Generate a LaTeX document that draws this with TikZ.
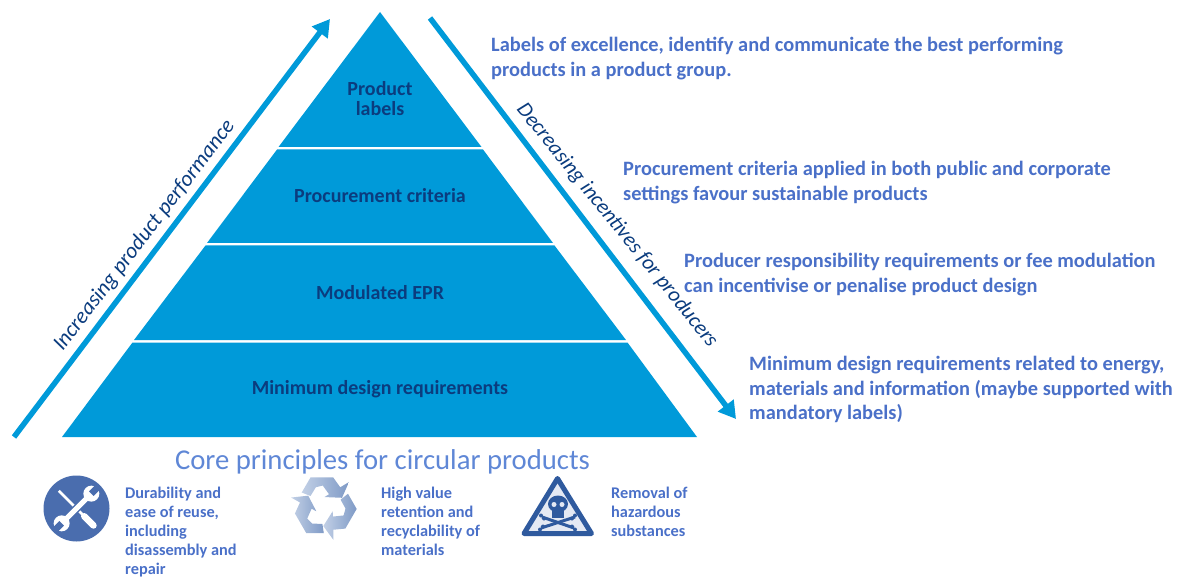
\documentclass[tikz,border=0pt]{standalone}
\usepackage{fontspec}
\setmainfont{Carlito}
\usetikzlibrary{arrows.meta,shapes.geometric}
\definecolor{pyr}{HTML}{009AD9}
\definecolor{darklab}{HTML}{0B3C7E}
\definecolor{bluetxt}{HTML}{4A70C8}
\definecolor{coretxt}{HTML}{5F87D6}
\definecolor{iconblue}{HTML}{4A6DAE}
\definecolor{hazblue}{HTML}{2F5A9E}
\definecolor{hazfill}{HTML}{E4E9F3}
\definecolor{recA}{HTML}{C2D0E6}
\definecolor{recB}{HTML}{7F9AC6}
\tikzset{
 tier/.style={fill=pyr,draw=none},
 tierlab/.style={font=\fontsize{20}{20}\selectfont\bfseries,text=darklab,align=center,inner sep=0},
 note/.style={font=\fontsize{20.4}{24.5}\selectfont\bfseries,text=bluetxt,align=left,anchor=north west,inner sep=0},
 small/.style={font=\fontsize{16.3}{19}\selectfont\bfseries,text=bluetxt,align=left,anchor=north west,inner sep=0},
 rotlab/.style={font=\fontsize{21.9}{24}\selectfont\itshape,text=darklab,inner sep=0},
 bigarrow/.style={draw=pyr,line width=5.5pt,-{Triangle[length=17pt,width=19pt]}},
 recarrow/.style={left color=recA,right color=recB,draw=none}
}
\begin{document}
\begin{tikzpicture}[x=1pt,y=-1pt]
\useasboundingbox (0,0) rectangle (1177,577);
% pyramid
\path[tier] (380,12) -- (481.5,147) -- (278.5,147) -- cycle;
\path[tier] (277,149.5) -- (483,149.5) -- (553,243) -- (207,243) -- cycle;
\path[tier] (205.5,245.5) -- (554.5,245.5) -- (626,340) -- (134,340) -- cycle;
\path[tier] (132.5,342.5) -- (627.5,342.5) -- (697,437) -- (62,437) -- cycle;
\node[tierlab] (t1) at (380,98.5) {Product\\labels};
\node[tierlab] (t2) at (380,195.5) {Procurement criteria};
\node[tierlab] (t3) at (380,292.5) {Modulated EPR};
\node[tierlab] (t4) at (380,389.5) {Minimum design requirements};
% arrows
\coordinate (ua) at (14,437);
\coordinate (ub) at (330,19);
\coordinate (da) at (430,18);
\coordinate (db) at (736,419);
\draw[bigarrow] (ua) -- (ub);
\draw[bigarrow] (da) -- (db);
\node[rotlab,rotate=52.6] (inc) at (144.5,235.5) {Increasing product performance};
\node[rotlab,font=\fontsize{21.4}{24}\selectfont\itshape,rotate=-51] (dec) at (617,225.5) {Decreasing incentives for producers};
% notes
\node[note] (n1) at (491,37) {Labels of excellence, identify and communicate the best performing\\products in a product group.};
\node[note] (n2) at (623,161) {Procurement criteria applied in both public and corporate\\settings favour sustainable products};
\node[note] (n3) at (684,253) {Producer responsibility requirements or fee modulation\\can incentivise or penalise product design};
\node[note] (n4) at (749,356) {Minimum design requirements related to energy,\\materials and information (maybe supported with\\mandatory labels)};
% core
\node[font=\fontsize{28.7}{32}\selectfont,text=coretxt,inner sep=0] (core) at (382.5,462) {Core principles for circular products};
\node[small] (s1) at (125,486.5) {Durability and\\ease of reuse,\\including\\disassembly and\\repair};
\node[small] (s2) at (381,486.5) {High value\\retention and\\recyclability of\\materials};
\node[small] (s3) at (611,486.5) {Removal of\\hazardous\\substances};
% tools icon
\fill[iconblue] (76.5,508.5) circle (33);
\begin{scope}[shift={(76.5,508.5)},rotate=45]
 \draw[white,line width=2.6pt] (0,-25) -- (0,10);
 \draw[white,line width=6.5pt,line cap=round] (0,11) -- (0,24);
 \draw[iconblue,line width=8pt] (-14,0) -- (14,0);
 \draw[white,line width=5pt] (-21,0) -- (21,0);
 \fill[white] (21,0) circle (8);
 \fill[white] (-21,0) circle (8);
 \fill[iconblue] (21,-3.2) rectangle (31,3.2);
 \fill[iconblue] (-21,-3.2) rectangle (-31,3.2);
\end{scope}
% recycling icon
\foreach \a in {0,120,240}{
 \begin{scope}[shift={(324.5,506.5)},rotate=\a,scale=1.05]
  \path[recarrow] (-21.7,-13.3) -- (-13.3,-27.7) -- (8.3,-27.7) -- (15,-18.3) -- (23.3,-23.3) -- (16.7,-8.3) -- (0,-9) -- (4.3,-11.7) -- (-1.7,-20) -- (-8.3,-18.3) -- (-13.3,-10) -- cycle;
 \end{scope}
}
% hazard icon
\path[fill=hazfill,draw=hazblue,line width=5pt,line join=round] (557.5,478.5) -- (524,533.5) -- (591.5,533.5) -- cycle;
\begin{scope}[hazblue]
 \draw[line width=3pt] (542,517) -- (574,528);
 \draw[line width=3pt] (575,517) -- (541,528);
 \foreach \x/\y in {541/515.5,544/518.5,575/515.5,572/518.5,540/529.5,543/526.5,575/529.5,572/526.5}{\fill (\x,\y) circle (2);}
 \fill (558,504) ellipse (10 and 8.5);
 \fill (552,509) rectangle (564,518);
 \fill[hazfill] (554,504.5) circle (2.5);
 \fill[hazfill] (562,504.5) circle (2.5);
\end{scope}
\end{tikzpicture}
\end{document}
